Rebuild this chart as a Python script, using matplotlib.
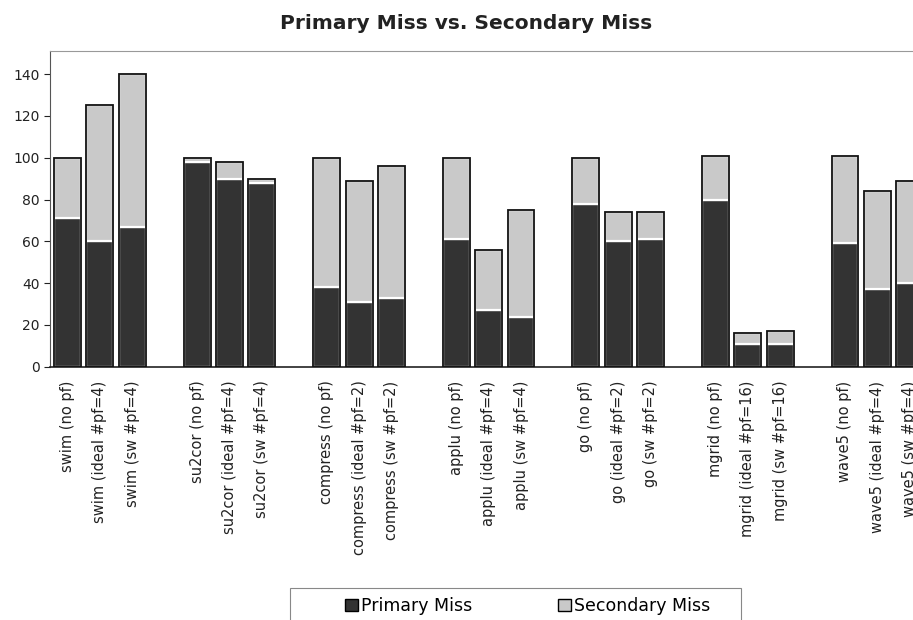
import matplotlib.pyplot as plt
from matplotlib.patches import Patch, Rectangle

benchmarks = ['swim', 'su2cor', 'compress', 'applu', 'go', 'mgrid', 'wave5']
configs = [
    ['(no pf)', '(ideal #pf=4)', '(sw #pf=4)'],
    ['(no pf)', '(ideal #pf=4)', '(sw #pf=4)'],
    ['(no pf)', '(ideal #pf=2)', '(sw #pf=2)'],
    ['(no pf)', '(ideal #pf=4)', '(sw #pf=4)'],
    ['(no pf)', '(ideal #pf=2)', '(sw #pf=2)'],
    ['(no pf)', '(ideal #pf=16)', '(sw #pf=16)'],
    ['(no pf)', '(ideal #pf=4)', '(sw #pf=4)'],
]

# primary / total (primary + secondary)
primary = [
    [71, 60, 67],
    [98, 90, 88],
    [38, 31, 33],
    [61, 27, 24],
    [78, 60, 61],
    [80, 11, 11],
    [59, 37, 40],
]
total = [
    [100, 125, 140],
    [100, 98, 90],
    [100, 89, 96],
    [100, 56, 75],
    [100, 74, 74],
    [101, 16, 17],
    [101, 84, 89],
]

dark = '#333333'
light = '#c9c9c9'

fig = plt.figure(figsize=(9.13, 6.2), dpi=100)
ax = fig.add_axes([0.0548, 0.4085, 0.9452, 0.509])

xs, labels, prim, sec = [], [], [], []
for g, name in enumerate(benchmarks):
    for i, cfg in enumerate(configs[g]):
        xs.append(g * 4 + i)
        labels.append(f'{name} {cfg}')
        prim.append(primary[g][i])
        sec.append(total[g][i] - primary[g][i])

w = 0.83
ax.bar(xs, prim, w, color=dark, edgecolor='white', linewidth=1.6, zorder=2)
ax.bar(xs, sec, w, bottom=prim, color=light, edgecolor='white', linewidth=1.6, zorder=2)
tot = [p + s for p, s in zip(prim, sec)]
ax.bar(xs, tot, w, facecolor='none', edgecolor='#111111', linewidth=1.3, zorder=3)

ax.set_xlim(-0.54, 26.1)
ax.set_ylim(0, 151)
ax.set_yticks(range(0, 141, 20))
ax.tick_params(axis='y', labelsize=10, length=4, width=0.8, colors='#222222')
ax.set_xticks(xs)
ax.set_xticklabels(labels, rotation=90, fontsize=10.5, color='#222222')
ax.tick_params(axis='x', length=0, pad=10)

ax.spines['right'].set_visible(False)
ax.spines['top'].set_color('#999999')
ax.spines['top'].set_linewidth(0.8)
ax.spines['left'].set_color('#555555')
ax.spines['bottom'].set_color('#222222')
ax.spines['bottom'].set_linewidth(1.2)

fig.text(0.511, 0.962, 'Primary Miss vs. Secondary Miss', ha='center', va='center',
         fontsize=14.5, fontweight='bold', color='#222222')

# legend box runs off the bottom edge in the scan
fig.patches.append(Rectangle((290 / 913, -0.05), (741 - 290) / 913, 0.05 + 32 / 620,
                             transform=fig.transFigure, facecolor='white',
                             edgecolor='#888888', linewidth=0.8))

handles = [Patch(facecolor=dark, edgecolor='black', label='Primary Miss'),
           Patch(facecolor=light, edgecolor='black', label='Secondary Miss')]
leg = fig.legend(handles=handles, loc='center left',
                 bbox_to_anchor=(345 / 913, 1 - 606 / 620),
                 ncol=2, fontsize=12.5, frameon=False,
                 handlelength=0.75, handleheight=0.75, handletextpad=0.2,
                 columnspacing=4.9, borderpad=0, borderaxespad=0)

fig.savefig('out.png', dpi=100)
